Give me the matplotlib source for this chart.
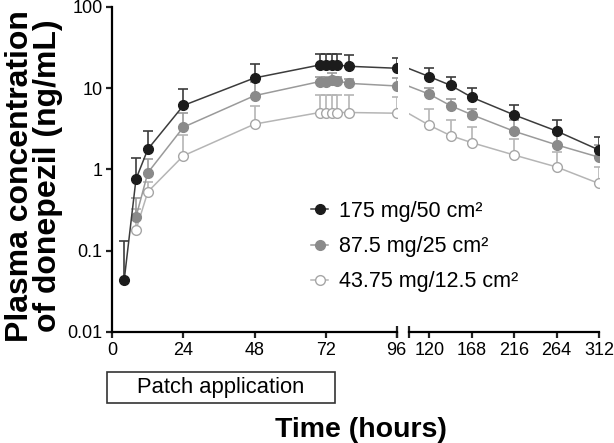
import matplotlib
matplotlib.use("Agg")
import matplotlib.pyplot as plt
from matplotlib.patches import Rectangle
import numpy as np

plt.rcParams['font.family'] = ['Liberation Sans', 'DejaVu Sans']

# sampling times (hours), split at the axis break
t_first = [4, 8, 12, 24, 48, 70, 72, 74, 76, 80, 96]
t_second = [120, 144, 168, 216, 264, 312]

# 175 mg/50 cm2 (mean and mean+SD)
hi_mean = [0.043, 0.76, 1.77, 6.1, 13.3, 19.2, 19.2, 19.2, 19.2, 18.5, 17.5,
           13.8, 10.8, 7.7, 4.67, 2.96, 1.73]
hi_top = [0.13, 1.37, 3.0, 9.8, 19.8, 26.3, 26.3, 26.3, 26.3, 25.5, 23.2,
          17.7, 13.6, 10.0, 6.25, 4.05, 2.48]

# 87.5 mg/25 cm2 (no value at 4 h)
mid_mean = [0.26, 0.91, 3.3, 8.05, 12.0, 12.0, 12.5, 12.2, 11.4, 10.6,
            8.4, 6.07, 4.7, 2.94, 2.0, 1.41]
mid_top = [0.44, 1.33, 5.0, 12.0, 13.5, 13.5, 15.5, 13.5, 13.0, 13.2,
           10.0, 7.4, 5.5, 4.0, 2.9, 2.0]

# 43.75 mg/12.5 cm2 (no value at 4 h)
low_mean = [0.18, 0.53, 1.47, 3.6, 5.0, 5.0, 5.0, 5.0, 5.0, 4.9,
            3.48, 2.6, 2.13, 1.5, 1.07, 0.67]
low_top = [0.33, 0.7, 2.65, 6.0, 8.2, 8.2, 8.2, 8.2, 8.2, 7.8,
           5.5, 4.1, 3.35, 2.35, 1.65, 1.08]

labels = ['175 mg/50 cm²', '87.5 mg/25 cm²', '43.75 mg/12.5 cm²']

fig = plt.figure(figsize=(6.14, 4.43), dpi=100)
ax1 = fig.add_axes([112.3 / 614, 111 / 443, 284.4 / 614, 325.3 / 443])
ax2 = fig.add_axes([409 / 614, 111 / 443, 190 / 614, 325.3 / 443], sharey=ax1)

times = np.array(t_first + t_second)
series = [
    # mean, top, times, marker face, marker edge, line colour
    (low_mean, low_top, times[1:], 'white', '#a6a6a6', '#b5b5b5'),
    (mid_mean, mid_top, times[1:], '#8a8a8a', '#8a8a8a', '#9a9a9a'),
    (hi_mean, hi_top, times, '#1c1c1c', '#1c1c1c', '#3c3c3c'),
]
handles = []
for k, (m, top, t, fc, ec, lc) in enumerate(series):
    m = np.array(m)
    top = np.array(top)
    n = len(t) - len(t_second)
    z = 2 + k
    for ax, sl in ((ax1, slice(0, n)), (ax2, slice(n, None))):
        err = [np.zeros_like(m[sl]), top[sl] - m[sl]]
        ax.errorbar(t[sl], m[sl], yerr=err, fmt='none', ecolor=lc,
                    elinewidth=1.2, capsize=3.5, capthick=1.2, zorder=z)
        h, = ax.plot(t[sl], m[sl], '-o', color=lc, lw=1.1, mfc=fc, mec=ec,
                     mew=1.0, ms=7, zorder=z + 0.5)
    # connecting line across the break (clipped in the right panel)
    ax2.plot(t[n - 1:n + 1], m[n - 1:n + 1], '-', color=lc, lw=1.1, zorder=z)
    handles.append(h)

ax1.set_yscale('log')
ax1.set_ylim(0.01, 100)
ax1.set_yticks([0.01, 0.1, 1, 10, 100])
ax1.set_yticklabels(['0.01', '0.1', '1', '10', '100'])
ax1.yaxis.set_minor_locator(matplotlib.ticker.NullLocator())
ax1.set_xlim(0, 96)
ax1.set_xticks([0, 24, 48, 72, 96])
ax2.set_xlim(97, 312)
ax2.set_xticks([120, 168, 216, 264, 312])

for ax in (ax1, ax2):
    for s in ('top', 'right'):
        ax.spines[s].set_visible(False)
    ax.spines['bottom'].set_linewidth(1.6)
    ax.spines['left'].set_linewidth(1.6)
    ax.tick_params(axis='both', width=1.6, length=4, labelsize=13,
                   color='#222222', pad=3)
ax2.spines['left'].set_visible(False)
ax2.tick_params(axis='y', left=False, labelleft=False)

# end bars at the axis break
ax1.plot([96], [0.01], marker='|', ms=9, mew=1.6, color='#222222', clip_on=False)
ax2.plot([97], [0.01], marker='|', ms=9, mew=1.6, color='#222222', clip_on=False)

fig.text(34 / 614, 1 - 176 / 443, 'Plasma concentration\nof donepezil (ng/mL)',
         fontsize=23, fontweight='bold', rotation=90, ha='center',
         va='center', multialignment='center', linespacing=0.95)
fig.text(361 / 614, 1 - 436.7 / 443, 'Time (hours)', fontsize=20.5,
         fontweight='bold', ha='center', va='baseline')

# patch application box
fig.patches.append(Rectangle((106.7 / 614, 1 - 403.3 / 443), 228.3 / 614,
                             31.6 / 443, transform=fig.transFigure,
                             fill=False, lw=1.2, ec='#333333'))
fig.text((106.7 + 335) / 2 / 614, 1 - 387.5 / 443, 'Patch application',
         fontsize=15.8, ha='center', va='center')

fig.legend(handles[::-1], labels, loc='upper left',
           bbox_to_anchor=(311 / 614, 1 - 201 / 443), frameon=False,
           fontsize=15.5, handlelength=0.8, handletextpad=0.5,
           labelspacing=0.66, borderaxespad=0, borderpad=0)

fig.savefig('out.png', dpi=100)
